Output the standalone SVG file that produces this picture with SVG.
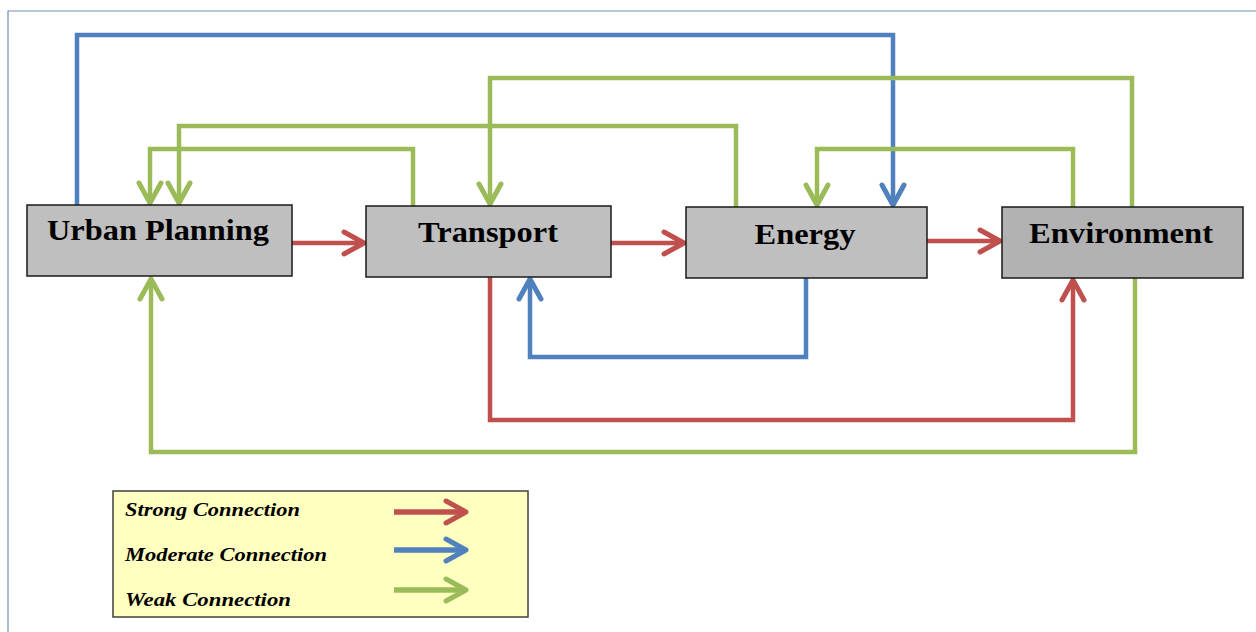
<svg xmlns="http://www.w3.org/2000/svg" width="1256" height="632" viewBox="0 0 1256 632">
<style>
.node{stroke:#1a1a1a;stroke-width:1.5}
.lbl{font-family:"Liberation Serif","Times New Roman",serif;font-weight:bold;font-size:30px;fill:#000;text-anchor:middle}
.leg{font-family:"Liberation Serif","Times New Roman",serif;font-weight:bold;font-style:italic;font-size:18px;fill:#000}
.c{fill:none;stroke-width:4.5;stroke-linejoin:miter}
.lc{stroke-width:5.5}
.r{stroke:#c0504d}
.b{stroke:#4f81bd}
.g{stroke:#9bbb59}
</style>
<defs>
<marker id="ar" markerUnits="userSpaceOnUse" markerWidth="30" markerHeight="30" viewBox="-24 -15 30 30" refX="0" refY="0" orient="auto" overflow="visible"><path d="M-20,-11 L0,0 L-20,11" fill="none" stroke="#c0504d" stroke-width="5" stroke-linecap="round" stroke-linejoin="round"/></marker>
<marker id="ab" markerUnits="userSpaceOnUse" markerWidth="30" markerHeight="30" viewBox="-24 -15 30 30" refX="0" refY="0" orient="auto" overflow="visible"><path d="M-20,-11 L0,0 L-20,11" fill="none" stroke="#4f81bd" stroke-width="5" stroke-linecap="round" stroke-linejoin="round"/></marker>
<marker id="ag" markerUnits="userSpaceOnUse" markerWidth="30" markerHeight="30" viewBox="-24 -15 30 30" refX="0" refY="0" orient="auto" overflow="visible"><path d="M-20,-11 L0,0 L-20,11" fill="none" stroke="#9bbb59" stroke-width="5" stroke-linecap="round" stroke-linejoin="round"/></marker>
</defs>
<rect width="1256" height="632" fill="#fff"/>
<path d="M8,632 V11 H1256" fill="none" stroke="#6f8fb5" stroke-width="1.2"/>

<g id="connectors">
<path class="c r" d="M292,243 H364" marker-end="url(#ar)"/>
<path class="c r" d="M611,243 H684" marker-end="url(#ar)"/>
<path class="c r" d="M927,241 H1000" marker-end="url(#ar)"/>
<path class="c r" d="M490,277 V420 H1073 V280" marker-end="url(#ar)"/>
<path class="c b" d="M77,205 V35 H893 V205" marker-end="url(#ab)"/>
<path class="c b" d="M806,278 V357 H530 V279" marker-end="url(#ab)"/>
<path class="c g" d="M413,206 V149 H150 V203" marker-end="url(#ag)"/>
<path class="c g" d="M736,207 V126 H179 V203" marker-end="url(#ag)"/>
<path class="c g" d="M1073,207 V149 H817 V205" marker-end="url(#ag)"/>
<path class="c g" d="M1132,207 V78 H490 V204" marker-end="url(#ag)"/>
<path class="c g" d="M1135,278 V452 H151 V279" marker-end="url(#ag)"/>
</g>

<g id="urban-planning">
<rect class="node" x="27" y="205" width="265" height="71" fill="#bfbfbf"/>
<text class="lbl" x="158" y="240" textLength="222" lengthAdjust="spacingAndGlyphs">Urban Planning</text>
</g>
<g id="transport">
<rect class="node" x="366" y="206" width="245" height="71" fill="#bfbfbf"/>
<text class="lbl" x="488" y="242" textLength="140" lengthAdjust="spacingAndGlyphs">Transport</text>
</g>
<g id="energy">
<rect class="node" x="686" y="207" width="241" height="71" fill="#bfbfbf"/>
<text class="lbl" x="805" y="244" textLength="101" lengthAdjust="spacingAndGlyphs">Energy</text>
</g>
<g id="environment">
<rect class="node" x="1002" y="207" width="241" height="71" fill="#b2b2b2"/>
<text class="lbl" x="1121" y="243" textLength="184" lengthAdjust="spacingAndGlyphs">Environment</text>
</g>

<g id="legend">
<rect x="113" y="491" width="415" height="126" fill="#ffffc0" stroke="#404040" stroke-width="1.5"/>
<text class="leg" x="125" y="516" textLength="175" lengthAdjust="spacingAndGlyphs">Strong Connection</text>
<text class="leg" x="125" y="561" textLength="202" lengthAdjust="spacingAndGlyphs">Moderate Connection</text>
<text class="leg" x="125" y="606" textLength="166" lengthAdjust="spacingAndGlyphs">Weak Connection</text>
<path class="c lc r" d="M394,512 H466" marker-end="url(#ar)"/>
<path class="c lc b" d="M394,550 H466" marker-end="url(#ab)"/>
<path class="c lc g" d="M394,590 H466" marker-end="url(#ag)"/>
</g>
</svg>
